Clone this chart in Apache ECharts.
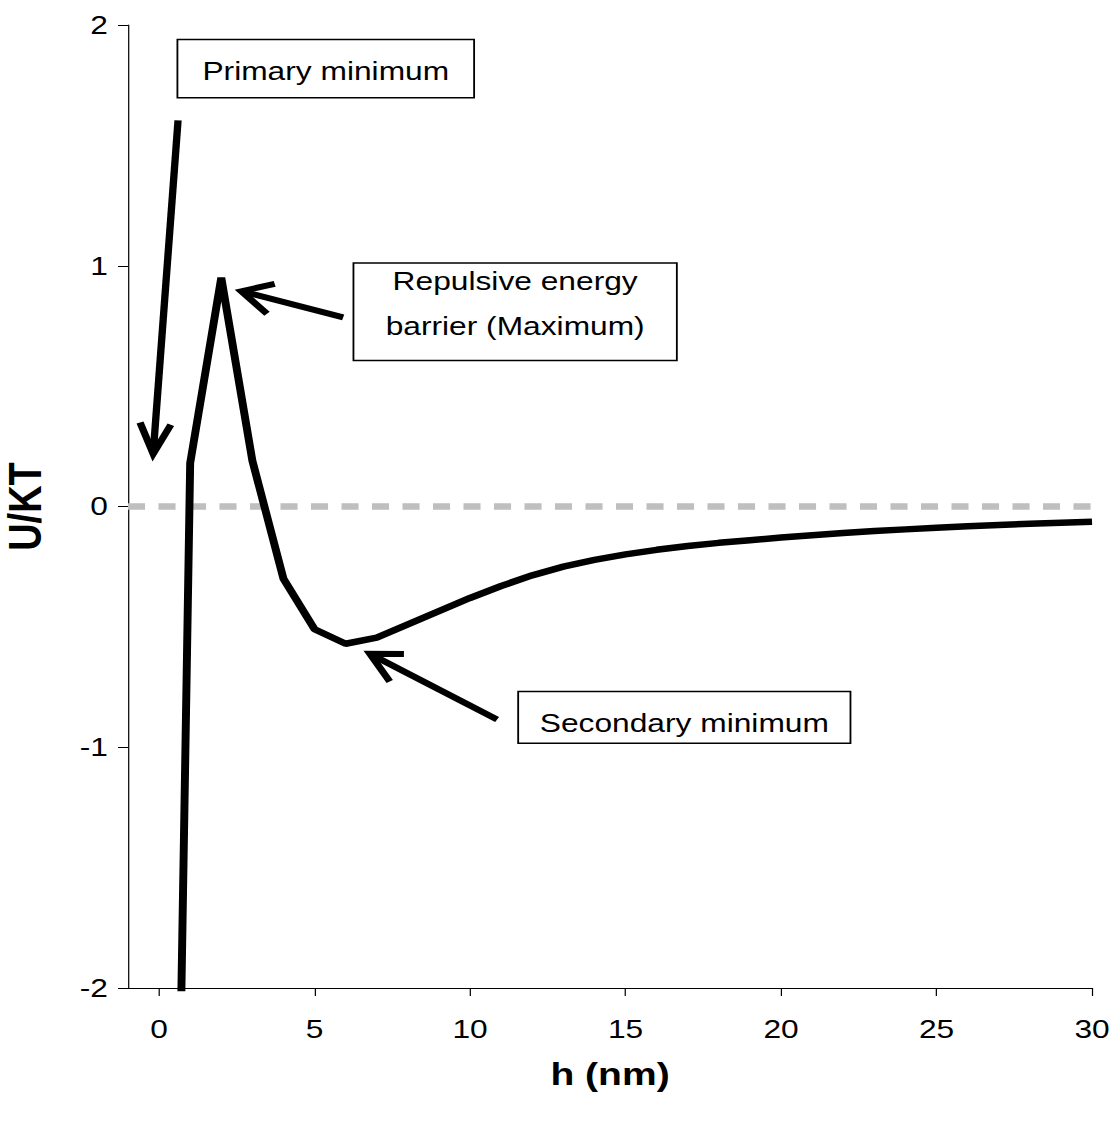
<!DOCTYPE html>
<html><head><meta charset="utf-8">
<script src="https://cdn.jsdelivr.net/npm/echarts@6/dist/echarts.min.js"></script>
<style>
html,body{margin:0;padding:0;background:#fff;overflow:hidden}
#c{width:915px;height:1122px;transform:scaleX(1.22);transform-origin:0 0}
</style>
</head><body><div id="c"></div>
<script>
// ---- data ----
const hValues = [0.5, 1, 2, 3, 4, 5, 6, 7, 8, 9, 10, 11, 12, 13, 14, 15, 16, 17, 18, 19, 20, 21, 22, 23, 24, 25, 26, 27, 28, 29, 30];
const uValues = [-3.7, 0.18, 0.95, 0.19, -0.30, -0.51, -0.57, -0.545, -0.49, -0.435, -0.38, -0.33, -0.286, -0.25, -0.222, -0.199, -0.18, -0.164, -0.151, -0.14, -0.129, -0.119, -0.11, -0.102, -0.095, -0.088, -0.082, -0.077, -0.072, -0.067, -0.063];
const zeroLineH = [-1, 30.8];
const zeroLineU = [0, 0];
const xTickValues = [0, 5, 10, 15, 20, 25, 30];
const yTickMin = -2, yTickMax = 2, yTickStep = 1;

const annoText = ['Primary minimum', 'Repulsive energy\nbarrier (Maximum)', 'Secondary minimum'];
const annoBoxH = [5.36, 11.45, 16.89];
const annoBoxU = [1.819, 0.809, -0.876];
const arrowTailH = [0.61, 5.92, 10.87];
const arrowTailU = [1.604, 0.786, -0.885];
const arrowTipH = [-0.19, 2.65, 6.78];
const arrowTipU = [0.219, 0.894, -0.612];

// ---- styling ----
const S = 1.22; // horizontal stretch applied by CSS
const FONT = '"Liberation Sans", Arial, sans-serif';
const boxStyle = [
  {w: 296.7, h: 58.3, dy: 2.6},
  {w: 323.4, h: 97.3, dy: -8.3},
  {w: 332.3, h: 51.7, dy: 5.3}
];

const chart = echarts.init(document.getElementById('c'), null, {renderer: 'svg'});

function renderAnno(params, api) {
  const i = params.dataIndex;
  const tail = api.coord([arrowTailH[i], arrowTailU[i]]);
  const tip = api.coord([arrowTipH[i], arrowTipU[i]]);
  const tx = tip[0] * S, ty = tip[1];
  const bx = tail[0] * S - tx, by = tail[1] - ty;
  const len = Math.hypot(bx, by);
  const ux = bx / len, uy = by / len;
  const ang = 27 * Math.PI / 180, L = 34;
  const wing = a => [(tx + L * (ux * Math.cos(a) - uy * Math.sin(a))) / S, ty + L * (ux * Math.sin(a) + uy * Math.cos(a))];
  const c = api.coord([annoBoxH[i], annoBoxU[i]]);
  const st = boxStyle[i];
  const bw = st.w / S, bh = st.h;
  return {
    type: 'group',
    children: [
      {type: 'line', shape: {x1: tail[0], y1: tail[1], x2: tip[0], y2: tip[1]},
       style: {stroke: '#000', lineWidth: 6, lineCap: 'butt'}},
      {type: 'polyline', shape: {points: [wing(ang), tip, wing(-ang)]},
       style: {stroke: '#000', lineWidth: 6, fill: null, lineJoin: 'miter', lineCap: 'butt'}},
      {type: 'rect', shape: {x: c[0] - bw / 2, y: c[1] - bh / 2, width: bw, height: bh},
       style: {fill: '#fff', stroke: '#000', lineWidth: 1.5}},
      {type: 'text', x: c[0], y: c[1] + st.dy,
       style: {text: annoText[i], fill: '#000', font: '26px ' + FONT, align: 'center', verticalAlign: 'middle', lineHeight: 45}}
    ]
  };
}

chart.setOption({
  animation: false,
  backgroundColor: '#fff',
  grid: {left: 104.9, right: 19.9, top: 25, bottom: 134, containLabel: false, outerBoundsMode: 'none'},
  xAxis: {
    type: 'value', min: -1, max: 30,
    name: 'h (nm)', nameLocation: 'middle', nameGap: 70,
    nameTextStyle: {fontFamily: FONT, fontWeight: 'bold', fontSize: 32, color: '#000'},
    axisLine: {onZero: false, lineStyle: {color: '#000', width: 1}},
    axisTick: {show: true, length: 8, customValues: xTickValues, lineStyle: {color: '#000', width: 1}},
    axisLabel: {customValues: xTickValues, margin: 28, fontFamily: FONT, fontSize: 26, color: '#000'},
    splitLine: {show: false}
  },
  yAxis: {
    type: 'value', min: yTickMin, max: yTickMax, interval: yTickStep,
    name: 'U/KT', nameLocation: 'middle', nameGap: 65, nameRotate: 90,
    nameTextStyle: {fontFamily: FONT, fontWeight: 'bold', fontSize: 38, color: '#000'},
    axisLine: {onZero: false, lineStyle: {color: '#000', width: 1}},
    axisTick: {show: true, length: 8.2, lineStyle: {color: '#000', width: 1}},
    axisLabel: {margin: 16.5, fontFamily: FONT, fontSize: 26, color: '#000'},
    splitLine: {show: false}
  },
  series: [
    {
      type: 'line', name: 'zero', z: 1, clip: false, symbol: 'none', silent: true,
      data: zeroLineH.map((x, i) => [x, zeroLineU[i]]),
      lineStyle: {color: '#BFBFBF', width: 6.5, type: [14, 11]}
    },
    {
      type: 'line', name: 'U/KT', z: 3, clip: true, symbol: 'none', silent: true,
      data: hValues.map((x, i) => [x, uValues[i]]),
      lineStyle: {color: '#000', width: 6.5, join: 'bevel'}
    },
    {
      type: 'custom', z: 4, clip: false, silent: true,
      data: annoText.map((t, i) => [annoBoxH[i], annoBoxU[i]]),
      renderItem: renderAnno
    }
  ]
});
</script>
</body></html>
